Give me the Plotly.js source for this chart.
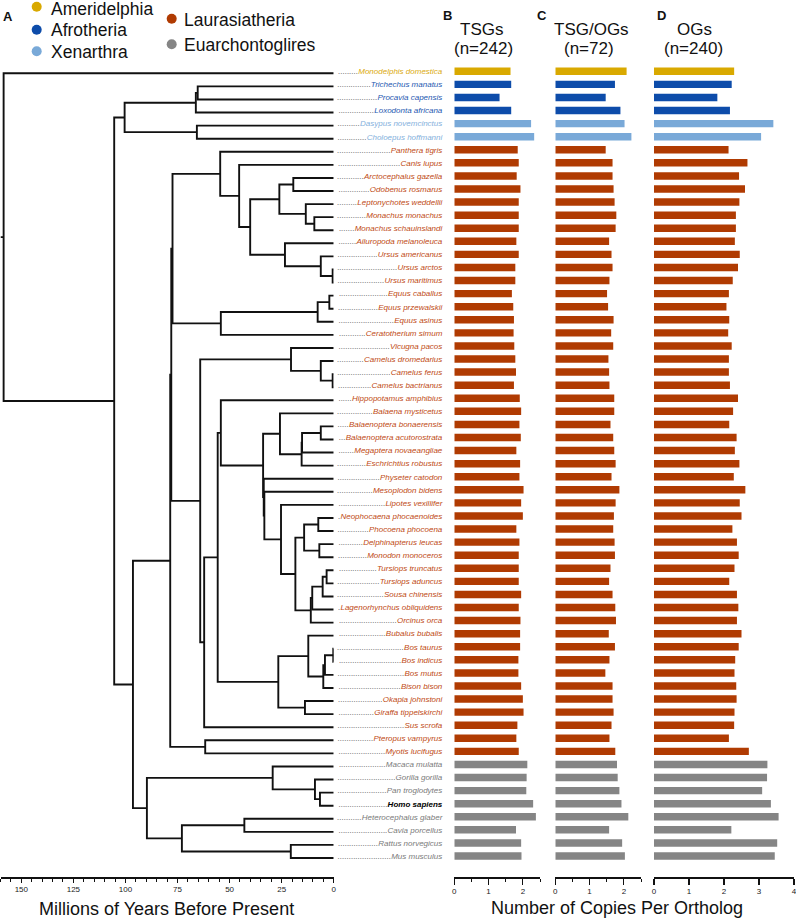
<!DOCTYPE html>
<html><head><meta charset="utf-8">
<script src="https://cdn.plot.ly/plotly-3.0.1.min.js"></script>
<style>html,body{margin:0;padding:0;background:#fff;}#chart{width:796px;height:919px;}</style>
</head><body><div id="chart"></div>
<script>
// ---------------- DATA ----------------
const species = [
 'Monodelphis domestica','Trichechus manatus','Procavia capensis','Loxodonta africana',
 'Dasypus novemcinctus','Choloepus hoffmanni','Panthera tigris','Canis lupus',
 'Arctocephalus gazella','Odobenus rosmarus','Leptonychotes weddellii','Monachus monachus',
 'Monachus schauinslandi','Ailuropoda melanoleuca','Ursus americanus','Ursus arctos',
 'Ursus maritimus','Equus caballus','Equus przewalskii','Equus asinus','Ceratotherium simum',
 'Vicugna pacos','Camelus dromedarius','Camelus ferus','Camelus bactrianus',
 'Hippopotamus amphibius','Balaena mysticetus','Balaenoptera bonaerensis',
 'Balaenoptera acutorostrata','Megaptera novaeangliae','Eschrichtius robustus',
 'Physeter catodon','Mesoplodon bidens','Lipotes vexillifer','Neophocaena phocaenoides',
 'Phocoena phocoena','Delphinapterus leucas','Monodon monoceros','Tursiops truncatus',
 'Tursiops aduncus','Sousa chinensis','Lagenorhynchus obliquidens','Orcinus orca',
 'Bubalus bubalis','Bos taurus','Bos indicus','Bos mutus','Bison bison','Okapia johnstoni',
 'Giraffa tippelskirchi','Sus scrofa','Pteropus vampyrus','Myotis lucifugus',
 'Macaca mulatta','Gorilla gorilla','Pan troglodytes','Homo sapiens',
 'Heterocephalus glaber','Cavia porcellus','Rattus norvegicus','Mus musculus'];

const groupNames = ['Ameridelphia','Afrotheria','Xenarthra','Laurasiatheria','Euarchontoglires'];
const groupColors = ['#D9A900','#0D4CAA','#79A9D8','#B03B02','#858585'];
const labelColors = ['#DBAA0E','#2457B0','#84B0DC','#C04A14','#7A7A7A'];
// number of consecutive species in each group (in species order)
const groupCounts = [1,3,2,47,8];

// Number of copies per ortholog
const tsgCopies = [1.64,1.66,1.32,1.66,2.24,2.33,
 1.85,1.88,1.82,1.93,1.88,1.88,1.88,1.81,1.88,
 1.78,1.78,1.68,1.72,1.74,1.73,1.75,1.78,1.80,1.74,1.91,1.95,1.90,1.94,
 1.81,1.92,1.90,2.02,1.95,2.00,1.81,1.90,1.88,1.88,1.88,1.95,1.88,1.93,1.92,
 1.92,1.87,1.87,1.95,2.00,2.02,1.84,1.81,1.88,
 2.13,2.11,2.10,2.30,2.38,1.80,1.95,1.96];
const tsgOgCopies = [2.08,1.74,1.47,1.90,2.02,2.22,
 1.47,1.67,1.67,1.70,1.73,1.78,1.76,1.57,1.64,
 1.67,1.58,1.51,1.54,1.70,1.63,1.69,1.55,1.57,1.58,1.72,1.72,1.61,1.69,
 1.72,1.76,1.64,1.87,1.76,1.71,1.69,1.73,1.74,1.61,1.57,1.67,1.75,1.77,1.56,
 1.74,1.58,1.46,1.67,1.67,1.70,1.64,1.58,1.75,
 1.80,1.82,1.87,1.93,2.13,1.57,1.95,2.03];
const ogCopies = [2.29,2.22,1.81,2.17,3.41,3.06,
 2.13,2.67,2.43,2.60,2.44,2.34,2.34,2.31,2.45,
 2.40,2.25,2.14,2.07,2.15,2.12,2.22,2.14,2.14,2.17,2.40,2.26,2.15,2.36,
 2.31,2.44,2.28,2.61,2.45,2.50,2.24,2.37,2.42,2.30,2.15,2.37,2.41,2.37,2.50,
 2.42,2.32,2.30,2.35,2.36,2.30,2.29,2.14,2.71,
 3.24,3.23,3.09,3.34,3.56,2.21,3.52,3.45];

const panelLetters = ['B','C','D'];
const panelTitles = ['TSGs','TSG/OGs','OGs'];
const panelCounts = ['(n=242)','(n=72)','(n=240)'];
const timeTicks = [0,25,50,75,100,125,150];
const copyTicksBC = [0,1,2];
const copyTicksD = [0,1,2,3,4];

// Time-calibrated tree: [divergence time (Myr), child, child]
const tree = [158.5, 'Monodelphis domestica',
 [105.4,
  [100.4,
   [66.2, [65.3, 'Trichechus manatus', 'Procavia capensis'], 'Loxodonta africana'],
   [65.7, 'Dasypus novemcinctus', 'Choloepus hoffmanni']],
  [96.4,
   [78.5,
    [78.0,
     [77.4,
      [54.5, 'Panthera tigris',
       [45.4, 'Canis lupus',
        [40.1,
         [26.1, [19.4, 'Arctocephalus gazella', 'Odobenus rosmarus'],
                [13.4, 'Leptonychotes weddellii', [9.3, 'Monachus monachus', 'Monachus schauinslandi']]],
         [23.4, 'Ailuropoda melanoleuca', [6.2, 'Ursus americanus', [0.5, 'Ursus arctos', 'Ursus maritimus']]]]]],
      [54.2, [7.7, [2.1, 'Equus caballus', 'Equus przewalskii'], 'Equus asinus'], 'Ceratotherium simum']],
     [64.1,
      [20.5, 'Vicugna pacos', [6.2, 'Camelus dromedarius', [0.5, 'Camelus ferus', 'Camelus bactrianus']]],
      [62.2,
       [55.7,
        [54.2, 'Hippopotamus amphibius',
         [33.9,
          [25.8, 'Balaena mysticetus',
           [15.4, [15.2, [6.2, 'Balaenoptera bonaerensis', 'Balaenoptera acutorostrata'], 'Megaptera novaeangliae'], 'Eschrichtius robustus']],
          [33.6, 'Physeter catodon',
           [33.3, 'Mesoplodon bidens',
            [25.3, 'Lipotes vexillifer',
             [18.4,
              [14.2, [7.4, 'Neophocaena phocaenoides', 'Phocoena phocoena'], [6.9, 'Delphinapterus leucas', 'Monodon monoceros']],
              [11.0, [10.3, [5.3, [3.4, 'Tursiops truncatus', 'Tursiops aduncus'], 'Sousa chinensis'], 'Lagenorhynchus obliquidens'], 'Orcinus orca']]]]]]],
        [26.6,
         [12.2, 'Bubalus bubalis', [5.0, [4.2, [0.2, 'Bos taurus', 'Bos indicus'], 'Bos mutus'], 'Bison bison']],
         [13.8, 'Okapia johnstoni', 'Giraffa tippelskirchi']]],
       'Sus scrofa']]],
    [61.7, 'Pteropus vampyrus', 'Myotis lucifugus']],
   [89.7,
    [29.3, 'Macaca mulatta', [9.0, 'Gorilla gorilla', [6.6, 'Pan troglodytes', 'Homo sapiens']]],
    [72.9, [42.9, 'Heterocephalus glaber', 'Cavia porcellus'], [20.6, 'Rattus norvegicus', 'Mus musculus']]]]]];

// ---------------- BUILD ----------------
const W = 796, H = 919;
const px = v => v / W;
const py = v => 1 - v / H;
const FONT = '"Liberation Sans", Arial, Helvetica, sans-serif';

const speciesGroup = [];
groupCounts.forEach((n, g) => { for (let k = 0; k < n; k++) speciesGroup.push(g); });
const barColors = speciesGroup.map(g => groupColors[g]);
const idx = species.map((_, i) => i);

// tree segments
const tx = [], ty = [];
function layoutNode(node) {
  if (typeof node === 'string') return {age: 0, y: species.indexOf(node)};
  const age = node[0];
  const kids = node.slice(1).map(layoutNode);
  const yTop = kids[0].y, yBot = kids[kids.length - 1].y;
  tx.push(kids[0].age, age, age, kids[kids.length-1].age, null);
  ty.push(yTop, yTop, yBot, yBot, null);
  for (let k = 1; k < kids.length - 1; k++) {
    tx.push(age, kids[k].age, null); ty.push(kids[k].y, kids[k].y, null);
  }
  return {age, y: (yTop + yBot) / 2};
}
const root = layoutNode(tree);
tx.push(160, root.age, null); ty.push(root.y, root.y, null);

// labels with dot leaders
const ctx = document.createElement('canvas').getContext('2d');
ctx.font = 'italic 8px ' + FONT;
const dotW = ctx.measureText('.').width;
const leaderWidth = 105;
const tickText = species.map((name, i) => {
  const bold = name === 'Homo sapiens';
  ctx.font = (bold ? 'italic bold ' : 'italic ') + '8px ' + FONT;
  const w = ctx.measureText(name).width;
  const n = Math.max(0, Math.floor((leaderWidth - w) / dotW));
  const dots = '.'.repeat(n);
  const col = bold ? '#000' : labelColors[speciesGroup[i]];
  const nm = bold ? '<b>' + name + '</b>' : name;
  return '<span style="color:#3a3a3a">' + dots + '</span><span style="color:' + col + '">' + nm + '</span>';
});

const traces = [];
traces.push({type: 'scatter', mode: 'lines', x: tx, y: ty, xaxis: 'x', yaxis: 'y2',
  line: {color: '#111', width: 1.9}, hoverinfo: 'skip', showlegend: false, connectgaps: false});
[tsgCopies, tsgOgCopies, ogCopies].forEach((vals, p) => {
  traces.push({type: 'bar', orientation: 'h', x: vals, y: idx, xaxis: 'x' + (p + 2), yaxis: 'y',
    marker: {color: barColors, line: {width: 0}}, hoverinfo: 'x', showlegend: false});
});

const yTopPx = 71.3 - 6.54, yBotPx = 856 + 6.54;
const axisY = py(877.3);
const baseX = {anchor: 'free', position: axisY, showline: true, linecolor: '#111', linewidth: 1.4,
  ticks: 'outside', tickcolor: '#111', tickwidth: 1.2, showgrid: false, zeroline: false,
  ticklabeloverflow: 'allow',
  tickfont: {family: FONT, size: 8, color: '#222'}, fixedrange: true};

const layout = {
  width: W, height: H, margin: {l: 0, r: 0, t: 0, b: 0},
  paper_bgcolor: '#fff', plot_bgcolor: 'rgba(0,0,0,0)', showlegend: false,
  font: {family: FONT, color: '#111'}, bargap: 0.43,
  xaxis: Object.assign({}, baseX, {domain: [px(0.5), px(333.7)], range: [160, 0],
    tickmode: 'array', tickvals: timeTicks, ticklen: 4,
    minor: {dtick: 5, ticks: 'outside', ticklen: 3, tickcolor: '#111', tickwidth: 1}}),
  xaxis2: Object.assign({}, baseX, {domain: [px(454.3), px(540)], range: [0, 2.5],
    tickmode: 'array', tickvals: copyTicksBC, ticklen: 6,
    minor: {dtick: 0.5, ticks: 'outside', ticklen: 3, tickcolor: '#111', tickwidth: 1}}),
  xaxis3: Object.assign({}, baseX, {domain: [px(555.3), px(641)], range: [0, 2.5],
    tickmode: 'array', tickvals: copyTicksBC, ticklen: 6,
    minor: {dtick: 0.5, ticks: 'outside', ticklen: 3, tickcolor: '#111', tickwidth: 1}}),
  xaxis4: Object.assign({}, baseX, {domain: [px(654), px(794)], range: [0, 4],
    tickmode: 'array', tickvals: copyTicksD, ticklen: 6}),
  yaxis: {domain: [py(yBotPx), py(yTopPx)], range: [60.5, -0.5], anchor: 'x2',
    showline: false, showgrid: false, zeroline: false, ticks: '',
    tickmode: 'array', tickvals: idx, ticktext: tickText, ticklabelstandoff: 11,
    tickfont: {family: FONT, size: 8, style: 'italic'}, fixedrange: true},
  yaxis2: {domain: [py(yBotPx + 2), py(yTopPx + 2)], range: [60.5, -0.5], anchor: 'x',
    visible: false, fixedrange: true},
  shapes: [], annotations: []
};

// legend (two columns)
const legendPos = [[36.7, 6.7, 49, 8.8], [36.7, 29.7, 49, 30.2], [36.7, 51.3, 49, 51.7],
                   [171.7, 18.7, 182, 19.7], [171.7, 44.3, 182, 44.7]];
groupNames.forEach((g, i) => {
  const [cx, cy, lx, ly] = legendPos[i];
  layout.shapes.push({type: 'circle', xref: 'paper', yref: 'paper', xsizemode: 'pixel', ysizemode: 'pixel',
    xanchor: px(cx), yanchor: py(cy), x0: -5, x1: 5, y0: -5, y1: 5,
    fillcolor: groupColors[i], line: {width: 0}});
  layout.annotations.push({xref: 'paper', yref: 'paper', x: px(lx), y: py(ly), xanchor: 'left', yanchor: 'middle',
    text: g, showarrow: false, font: {family: FONT, size: 17.5, color: '#111'}});
});

function ann(text, x, y, size, bold, xa) {
  layout.annotations.push({xref: 'paper', yref: 'paper', x: px(x), y: py(y), xanchor: xa || 'center', yanchor: 'middle',
    text: bold ? '<b>' + text + '</b>' : text, showarrow: false, font: {family: FONT, size: size, color: '#111'}});
}
ann('A', 8.3, 16.2, 13, true);
const letterX = [447.7, 541.7, 661.7], titleX = [481, 591, 694], countX = [483.3, 588.5, 693.3];
panelLetters.forEach((l, i) => {
  ann(l, letterX[i], 15.2, 13, true);
  ann(panelTitles[i], titleX[i], 29.2, 17, false);
  ann(panelCounts[i], countX[i], 48.5, 17, false);
});
ann('Millions of Years Before Present', 166.7, 908.5, 18, false);
ann('Number of Copies Per Ortholog', 616.7, 908, 18, false);

Plotly.newPlot('chart', traces, layout, {staticPlot: true, displayModeBar: false});
</script></body></html>
